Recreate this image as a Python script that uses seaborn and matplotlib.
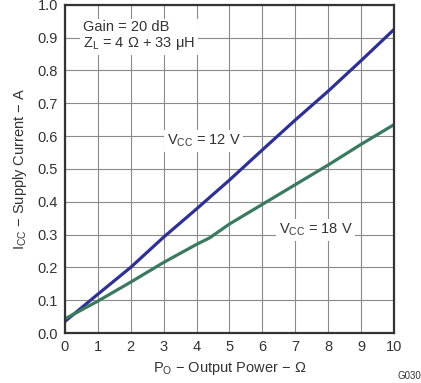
import pandas as pd
import matplotlib
matplotlib.use("Agg")
import matplotlib.pyplot as plt
import seaborn as sns

# data
po_12 = [0, 1, 2, 3, 4, 5, 6, 7, 8, 9, 10]
icc_12 = [0.035, 0.118, 0.2, 0.292, 0.378, 0.466, 0.558, 0.649, 0.737, 0.83, 0.925]
po_18 = [0, 1, 2, 3, 4, 4.4, 5, 6, 7, 8, 9, 10]
icc_18 = [0.043, 0.097, 0.155, 0.215, 0.27, 0.29, 0.332, 0.392, 0.452, 0.512, 0.575, 0.635]
series = ["12 V", "18 V"]
colors = ["#2e3192", "#3b7a5f"]
x_ticks = list(range(0, 11))
y_ticks = [round(0.1 * i, 1) for i in range(11)]

df = pd.concat([
    pd.DataFrame({"po": po_12, "icc": icc_12, "vcc": series[0]}),
    pd.DataFrame({"po": po_18, "icc": icc_18, "vcc": series[1]}),
])

sns.set_style("white")
plt.rcParams["font.family"] = ["Liberation Sans", "DejaVu Sans"]
txt = "#333333"

fig = plt.figure(figsize=(4.21, 3.83), dpi=100)
ax = fig.add_axes([0.154, 0.1305, 0.782, 0.857])

sns.lineplot(data=df, x="po", y="icc", hue="vcc", palette=colors,
             linewidth=2.3, legend=False, ax=ax, sort=False)

ax.set_xlim(0, 10)
ax.set_ylim(0, 1.0)
ax.set_xticks(x_ticks)
ax.set_yticks(y_ticks)
ax.set_xticklabels([str(t) for t in x_ticks])
ax.set_yticklabels([f"{t:.1f}" for t in y_ticks])
ax.grid(True, color="#8a8a8a", linewidth=0.8)
ax.set_axisbelow(True)
ax.tick_params(length=0, labelsize=10.5, colors=txt, pad=5)
for s in ax.spines.values():
    s.set_color("#333333")
    s.set_linewidth(1.6)

ax.set_xlabel("P$_\\mathregular{O}$ − Output Power − Ω", fontsize=10.5, color=txt, labelpad=4)
ax.set_ylabel("I$_\\mathregular{CC}$ − Supply Current − A", fontsize=10.5, color=txt, labelpad=6)

box = dict(facecolor="white", edgecolor="none", pad=2)
ax.text(0.55, 0.955, "Gain = 20 dB\nZ$_\\mathregular{L}$ = 4 Ω + 33 μH", fontsize=10.5,
        color=txt, va="top", ha="left", bbox=box, linespacing=1.1)
ax.text(3.1, 0.585, "V$_\\mathregular{CC}$ = 12 V", fontsize=10.5, color=txt,
        va="center", ha="left", bbox=box)
ax.text(6.5, 0.315, "V$_\\mathregular{CC}$ = 18 V", fontsize=10.5, color=txt,
        va="center", ha="left", bbox=box)

fig.text(0.945, 0.005, "G030", fontsize=7, color=txt, ha="left", va="bottom")

fig.savefig("out.png", dpi=100)
